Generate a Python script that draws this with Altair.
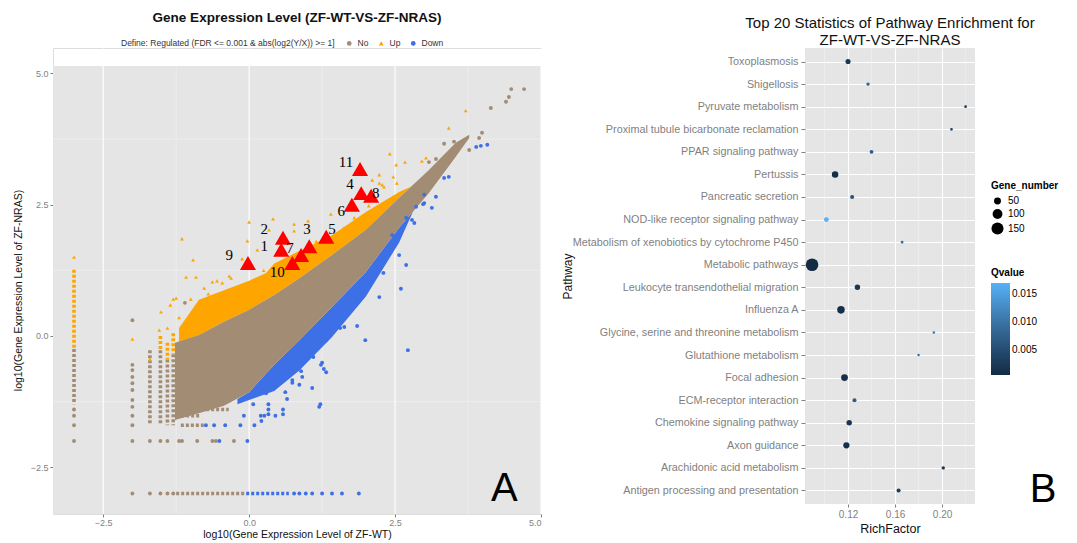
import altair as alt
import pandas as pd

# ---------------- Panel A : scatter of expression levels ----------------
# dense "No" band (brown) : x positions with upper / lower edges
band_x   = [-1.27, -0.86, -0.43, 0.0, 0.43, 0.86, 1.42, 2.0, 2.57, 3.08, 3.54, 3.77]
no_upper = [-0.13, 0.02, 0.27, 0.50, 0.78, 1.10, 1.54, 2.02, 2.63, 3.16, 3.68, 3.83]
no_lower = [-1.60, -1.47, -1.33, -1.07, -0.55, -0.08, 0.55, 1.22, 2.06, 2.72, 3.41, 3.77]

# dense "Up" band (orange)
up_band_x = [-1.20, -0.86, -0.43, 0.0, 0.29, 0.43, 0.86, 1.42, 2.0, 2.57, 2.75]
up_upper  = [0.15, 0.69, 0.87, 1.05, 1.20, 1.38, 1.62, 1.92, 2.36, 2.74, 2.83]
up_lower  = [-0.11, 0.02, 0.27, 0.50, 0.69, 0.78, 1.10, 1.54, 2.02, 2.63, 2.82]

# dense "Down" band (blue)
down_band_x = [-0.2, 0.0, 0.43, 0.86, 1.42, 2.0, 2.57, 2.8]
down_upper  = [-1.20, -1.07, -0.55, -0.08, 0.55, 1.22, 2.06, 2.36]
down_lower  = [-1.30, -1.22, -1.05, -0.66, -0.02, 0.75, 1.78, 2.35]

# dense columns of points at discrete low values of ZF-WT
col_x      = [-3.0, -3.0, -1.70, -1.52, -1.52, -1.40, -1.40, -1.30, -1.30]
col_top    = [1.26, -0.25, -0.27, 0.0, -0.27, -0.13, -0.45, 0.05, -0.35]
col_bottom = [-0.25, -1.30, -1.70, -0.27, -1.70, -0.45, -1.70, -0.35, -1.70]
col_status = ["Up", "No", "No", "Up", "No", "Up", "No", "Up", "No"]

# dense rows of points at discrete low values of ZF-NRAS
row_y      = [-3.0, -3.0, -1.70, -1.52, -1.40]
row_left   = [-1.25, -0.05, -1.17, -1.25, -1.25]
row_right  = [-0.05, 0.68, -0.77, -0.85, -0.35]
row_status = ["No", "Down", "No", "No", "No"]

# isolated points
no_x = [-3.0, -3.0, -3.0, -3.0, -2.0, -2.0, -2.0, -2.0, -2.0, -2.0, -2.0, -2.0, -2.0, -2.0, -2.0, -2.0,
        -1.70, -1.70, -1.52, -1.52, -1.40, -1.40, -1.30, -1.20, -1.15, -0.89, -0.63, -0.57, -0.26, -1.10,
        4.49, 4.71, 4.40, 4.45, 4.14, 3.99, 3.94, 3.34, 3.51, 3.77, 3.08, 3.20, 3.42]
no_y = [-1.40, -1.52, -1.70, -2.0, 0.30, -0.55, -0.65, -0.78, -0.90, -1.03, -1.22, -1.35, -1.52, -1.70, -2.0, -3.0,
        -2.0, -3.0, -2.0, -3.0, -2.0, -3.0, -3.0, -2.0, -2.0, -2.0, -2.0, -2.0, -2.0, 0.63,
        4.70, 4.70, 4.46, 4.55, 4.34, 3.87, 3.77, 3.66, 3.70, 3.54, 3.31, 3.37, 3.35]

up_x = [3.71, 3.42, 2.41, 3.03, 2.96, 2.52, 2.67, 2.47, 2.23, 2.31, 2.53, 2.23, 2.11, 2.28,
        1.40, 1.01, 0.77, 0.41, 0.0, 0.34, 0.77, -0.03, 0.14, -1.15, -0.96, -0.12, -0.34, -0.91,
        -1.08, -1.30, -1.51, -1.40, -1.54, -2.0, -1.70, -0.63, -0.77, -0.46, -0.31, -3.0, -1.25, -1.35,
        1.62, 1.80, 2.05, 1.15, 0.55, 0.25, -0.55, -1.0, -1.20, -0.70]
up_y = [4.29, 3.96, 3.47, 3.39, 3.33, 3.26, 3.31, 3.03, 2.91, 2.84, 2.91, 3.07, 2.97, 2.88,
        2.32, 2.19, 2.13, 2.23, 2.17, 2.02, 2.0, 1.81, 1.64, 1.85, 1.45, 1.47, 1.14, 1.12,
        1.12, 0.70, 0.46, 0.15, 0.11, -0.06, -0.44, 1.03, 0.91, 1.01, 1.10, 1.50, 0.72, 0.59,
        2.05, 2.25, 2.48, 1.80, 1.55, 1.25, 1.05, 0.70, 0.35, 0.80]

down_x = [2.72, 1.99, 2.23, 2.60, 2.69, 2.57, 2.45, 2.79, 3.13, 2.98, 2.11, 1.85, 1.63, 1.54, 1.32, 1.20,
          1.08, 1.25, 1.32, 0.91, 1.08, 0.74, 0.57, 0.86, 0.62, 0.46, 0.29,
          3.89, 3.97, 4.08, 3.34, 3.42, 3.20, 3.0, 3.0, 2.69, 2.83, 2.86,
          1.20, 1.28, 1.23, 0.89, 0.74, 0.58, 0.33, 0.21, 1.85, 1.56,
          0.77, 0.86, 0.97, 1.08, 1.25, 1.42, 1.59, 1.88,
          -0.51, -0.03, -0.74, -0.60, -0.41, -0.15, 0.09, -0.09, 0.20, 0.26, 0.45, 0.33, 0.58, 0.07, 0.33, 1.22,
          2.30, 1.70, 1.10, 0.65]
down_y = [-0.27, -0.08, 0.74, 0.90, 1.35, 1.54, 1.92, 2.21, 2.44, 2.51, 1.07, 0.69, 0.17, 0.17, -0.08, -0.13,
          -0.27, -0.51, -0.69, -0.78, -0.99, -0.84, -0.84, -0.93, -1.07, -0.93, -1.09,
          3.60, 3.62, 3.64, 3.01, 3.03, 2.65, 2.69, 2.53, 2.25, 2.15, 2.46,
          -1.35, -0.63, -0.55, -0.67, -0.89, -1.49, -1.49, -1.62, 0.19, 0.15,
          -3.0, -3.0, -3.0, -3.0, -3.0, -3.0, -3.0, -3.0,
          -2.0, -2.0, -1.70, -1.70, -1.70, -1.70, -1.70, -1.52, -1.52, -1.52, -1.52, -1.40, -1.40, -1.30, -1.30, -1.30,
          1.20, 0.45, -0.40, -1.20]

# highlighted genes (red triangles) and their number labels
gene_ids = ["1", "2", "3", "4", "5", "6", "7", "8", "9", "10", "11"]
gene_x   = [0.55, 0.58, 1.03, 1.92, 1.32, 1.76, 0.89, 2.09, -0.02, 0.74, 1.90]
gene_y   = [1.64, 1.87, 1.71, 2.72, 1.89, 2.50, 1.54, 2.67, 1.39, 1.39, 3.18]
label_x  = [0.26, 0.26, 0.99, 1.73, 1.42, 1.58, 0.70, 2.17, -0.34, 0.48, 1.66]
label_y  = [1.71, 2.04, 2.04, 2.90, 2.04, 2.38, 1.68, 2.72, 1.54, 1.22, 3.31]

xA_ticks = [-2.5, 0.0, 2.5, 5.0]
yA_ticks = [-2.5, 0.0, 2.5, 5.0]
xA_minor = [-1.25, 1.25, 3.75]
yA_minor = [-1.25, 1.25, 3.75]
xA_range = [-3.36, 5.0]      # panel A extent (ggplot expanded limits)
yA_range = [-3.39, 5.14]

# ---------------- Panel B : pathway enrichment ----------------
pathways = ["Toxoplasmosis", "Shigellosis", "Pyruvate metabolism",
            "Proximal tubule bicarbonate reclamation", "PPAR signaling pathway", "Pertussis",
            "Pancreatic secretion", "NOD-like receptor signaling pathway",
            "Metabolism of xenobiotics by cytochrome P450", "Metabolic pathways",
            "Leukocyte transendothelial migration", "Influenza A",
            "Glycine, serine and threonine metabolism", "Glutathione metabolism", "Focal adhesion",
            "ECM-receptor interaction", "Chemokine signaling pathway", "Axon guidance",
            "Arachidonic acid metabolism", "Antigen processing and presentation"]
rich_factor = [0.120, 0.137, 0.220, 0.208, 0.140, 0.109, 0.1235, 0.1016, 0.166, 0.0894,
               0.128, 0.114, 0.193, 0.180, 0.117, 0.1255, 0.121, 0.1186, 0.201, 0.163]
gene_number = [27, 12, 8, 8, 15, 44, 17, 24, 8, 165, 31, 59, 6, 6, 48, 17, 31, 40, 12, 17]
qvalue = [0.002, 0.008, 0.003, 0.004, 0.007, 0.001, 0.006, 0.017, 0.009, 0.0005,
          0.002, 0.001, 0.010, 0.009, 0.001, 0.007, 0.002, 0.001, 0.002, 0.003]
xB_ticks = [0.12, 0.16, 0.20]
xB_minor = [0.10, 0.14, 0.18, 0.22]

# ---------------- styling ----------------
FONT = "Liberation Sans"
BROWN, ORANGE, BLUE, RED = "#A38C74", "#FFA500", "#3D6FE6", "#FF0000"
GRAY_BG, MINOR = "#E5E5E5", "#F1F1F1"
STATUS_COLORS = {"No": BROWN, "Up": ORANGE, "Down": BLUE}
LEGEND_TITLE = "Define: Regulated (FDR <= 0.001 & abs(log2(Y/X)) >= 1]"

status_color = alt.Scale(domain=["No", "Up", "Down"], range=[BROWN, ORANGE, BLUE])
status_shape = alt.Scale(domain=["No", "Up", "Down"], range=["circle", "triangle-up", "circle"])

# y scale of panel A extends above the grey panel so that panel B can start higher
xA_scale = alt.Scale(domain=xA_range, nice=False, zero=False)
yA_scale = alt.Scale(domain=[yA_range[0], yA_range[1] + 0.343], nice=False, zero=False)

common_axis = dict(labelColor="#7F7F7F", labelFont=FONT, tickColor="#7F7F7F",
                   domain=False, grid=True, gridColor="white", gridWidth=1.1,
                   titleColor="#111111", titleFont=FONT, titleFontWeight="normal")

xA_axis = alt.Axis(values=xA_ticks, format=".1f", title="log10(Gene Expression Level of ZF-WT)",
                   labelFontSize=9, titleFontSize=10.5, titlePadding=2, labelPadding=1, tickSize=3,
                   **common_axis)
yA_axis = alt.Axis(values=yA_ticks, format=".1f", title="log10(Gene Expression Level of ZF-NRAS)",
                   labelFontSize=9, titleFontSize=10.5, titlePadding=7, labelPadding=2, titleY=242,
                   tickSize=3, **common_axis)


def XA(field="x"):
    return alt.X(f"{field}:Q", scale=xA_scale, axis=xA_axis)


def YA(field="y"):
    return alt.Y(f"{field}:Q", scale=yA_scale, axis=yA_axis)


bgA = alt.Chart(pd.DataFrame({"x": [xA_range[0]], "x2": [xA_range[1]],
                              "y": [yA_range[0]], "y2": [yA_range[1]]})).mark_rect(
    color=GRAY_BG).encode(x=XA(), x2="x2:Q", y=YA(), y2="y2:Q")
minorA_v = alt.Chart(pd.DataFrame({"x": xA_minor, "y": [yA_range[0]] * len(xA_minor),
                                   "y2": [yA_range[1]] * len(xA_minor)})).mark_rule(
    color=MINOR, strokeWidth=0.7).encode(x=XA(), y=YA(), y2="y2:Q")
minorA_h = alt.Chart(pd.DataFrame({"y": yA_minor})).mark_rule(color=MINOR, strokeWidth=0.7).encode(y=YA())
majorA_v = alt.Chart(pd.DataFrame({"x": xA_ticks, "y": [yA_range[0]] * len(xA_ticks),
                                   "y2": [yA_range[1]] * len(xA_ticks)})).mark_rule(
    color="white", strokeWidth=1.1).encode(x=XA(), y=YA(), y2="y2:Q")

up_band = alt.Chart(pd.DataFrame({"x": up_band_x, "y": up_upper, "y2": up_lower})).mark_area(
    color=ORANGE).encode(x=XA(), y=YA(), y2="y2:Q")
down_band = alt.Chart(pd.DataFrame({"x": down_band_x, "y": down_upper, "y2": down_lower})).mark_area(
    color=BLUE).encode(x=XA(), y=YA(), y2="y2:Q")
no_band = alt.Chart(pd.DataFrame({"x": band_x, "y": no_upper, "y2": no_lower})).mark_area(
    color=BROWN).encode(x=XA(), y=YA(), y2="y2:Q")

col_df = pd.DataFrame({"x": col_x, "y": col_top, "y2": col_bottom, "status": col_status})
row_df = pd.DataFrame({"y": row_y, "x": row_left, "x2": row_right, "status": row_status})
seg_layers = []
for st, colr in STATUS_COLORS.items():
    seg_layers.append(alt.Chart(col_df).transform_filter(alt.datum.status == st).mark_rule(
        strokeWidth=3.6, strokeDash=[3, 2], color=colr).encode(x=XA(), y=YA(), y2="y2:Q"))
    seg_layers.append(alt.Chart(row_df).transform_filter(alt.datum.status == st).mark_rule(
        strokeWidth=3.6, strokeDash=[3, 2], color=colr).encode(y=YA(), x=XA(), x2="x2:Q"))

pts = pd.DataFrame({
    "x": no_x + up_x + down_x,
    "y": no_y + up_y + down_y,
    "status": ["No"] * len(no_x) + ["Up"] * len(up_x) + ["Down"] * len(down_x),
})
legendA = alt.Legend(orient="none", legendX=68, legendY=-9, direction="horizontal",
                     titleOrient="left", titleFontSize=8.5, titleFontWeight="normal", titleFont=FONT,
                     titleColor="#333333", labelFontSize=8.5, labelFont=FONT, labelColor="#333333",
                     symbolSize=22, columnPadding=8, titlePadding=10, symbolStrokeWidth=0,
                     titleLimit=500, labelLimit=100)
points = alt.Chart(pts).mark_point(filled=True, size=15, opacity=1).encode(
    x=XA(), y=YA(),
    color=alt.Color("status:N", scale=status_color, legend=legendA, title=LEGEND_TITLE),
    shape=alt.Shape("status:N", scale=status_shape, legend=legendA, title=LEGEND_TITLE),
)

genes = alt.Chart(pd.DataFrame({"x": gene_x, "y": gene_y})).mark_point(
    shape="triangle-up", filled=True, color=RED, size=260, opacity=1).encode(x=XA(), y=YA())
gene_labels = alt.Chart(pd.DataFrame({"x": label_x, "y": label_y, "id": gene_ids})).mark_text(
    font="Liberation Serif", fontSize=15, color="black").encode(x=XA(), y=YA(), text="id:N")
letterA = alt.Chart(pd.DataFrame({"x": [4.37], "y": [-2.91], "t": ["A"]})).mark_text(
    font=FONT, fontSize=40, color="black").encode(x=XA(), y=YA(), text="t:N")

panelA = alt.layer(bgA, minorA_v, minorA_h, majorA_v, up_band, down_band, no_band, *seg_layers,
                   points, genes, gene_labels, letterA).properties(
    width=488, height=466,
    title=alt.TitleParams(text="Gene Expression Level (ZF-WT-VS-ZF-NRAS)", fontSize=13.5,
                          fontWeight="bold", font=FONT, color="#111111", anchor="middle",
                          frame="group", offset=15))

# ---------------- Panel B ----------------
xB_scale = alt.Scale(domain=[0.0834, 0.228], nice=False, zero=False)
yB_scale = alt.Scale(type="point", domain=pathways, padding=0.6)
xB_axis = alt.Axis(values=xB_ticks, format=".2f", title="RichFactor", labelFontSize=10,
                   titleFontSize=12.5, titlePadding=3, labelPadding=2, tickSize=3, **common_axis)
yB_axis = alt.Axis(title="Pathway", labelFontSize=10.8, titleFontSize=12, titlePadding=31,
                   labelPadding=3, tickSize=4, labelLimit=400, **common_axis)

dfB = pd.DataFrame({"Pathway": pathways, "RichFactor": rich_factor,
                    "Gene_number": gene_number, "Qvalue": qvalue})

minorB = alt.Chart(pd.DataFrame({"RichFactor": xB_minor})).mark_rule(color=MINOR, strokeWidth=0.7).encode(
    x=alt.X("RichFactor:Q", scale=xB_scale, axis=xB_axis))
dots = alt.Chart(dfB).mark_circle(opacity=1).encode(
    x=alt.X("RichFactor:Q", scale=xB_scale, axis=xB_axis),
    y=alt.Y("Pathway:N", scale=yB_scale, axis=yB_axis, sort=pathways),
    size=alt.Size("Gene_number:Q", scale=alt.Scale(domain=[0, 160], range=[0, 154]),
                  legend=alt.Legend(orient="none", legendX=186, legendY=133, values=[50, 100, 150],
                                    title="Gene_number", titleFontSize=10, titleFont=FONT,
                                    titleFontWeight="bold", labelFontSize=10, labelFont=FONT,
                                    symbolFillColor="black", symbolStrokeWidth=0, symbolOpacity=1,
                                    rowPadding=3)),
    color=alt.Color("Qvalue:Q", scale=alt.Scale(domain=[0.0005, 0.017], range=["#132B43", "#56B1F7"]),
                    legend=alt.Legend(orient="none", legendX=186, legendY=220, title="Qvalue",
                                      values=[0.005, 0.010, 0.015], format=".3f",
                                      gradientLength=92, gradientThickness=19, titleFontSize=10,
                                      titleFont=FONT, titleFontWeight="bold", labelFontSize=10,
                                      labelFont=FONT)),
)
letterB = alt.Chart(pd.DataFrame({"RichFactor": [0.286], "Pathway": ["Antigen processing and presentation"],
                                  "t": ["B"]})).mark_text(font=FONT, fontSize=40, color="black").encode(
    x=alt.X("RichFactor:Q", scale=xB_scale, axis=xB_axis),
    y=alt.Y("Pathway:N", scale=yB_scale, axis=yB_axis, sort=pathways),
    text="t:N")

panelB = alt.layer(minorB, dots, letterB).properties(
    width=170, height=456, view=alt.ViewBackground(fill=GRAY_BG, stroke=None),
    title=alt.TitleParams(text=["Top 20 Statistics of Pathway Enrichment for", "ZF-WT-VS-ZF-NRAS"],
                          fontSize=15, fontWeight="normal", font=FONT, color="#111111",
                          anchor="middle", frame="group", offset=0, lineHeight=17))

chart = alt.hconcat(panelA, panelB, spacing=18).resolve_scale(
    color="independent", shape="independent", size="independent").properties(
    padding={"left": 12, "top": 10, "right": 0, "bottom": 0}).configure_view(
    stroke=None).configure(background="white")

chart.save("out.html", embed_options={"renderer": "svg", "actions": False})
